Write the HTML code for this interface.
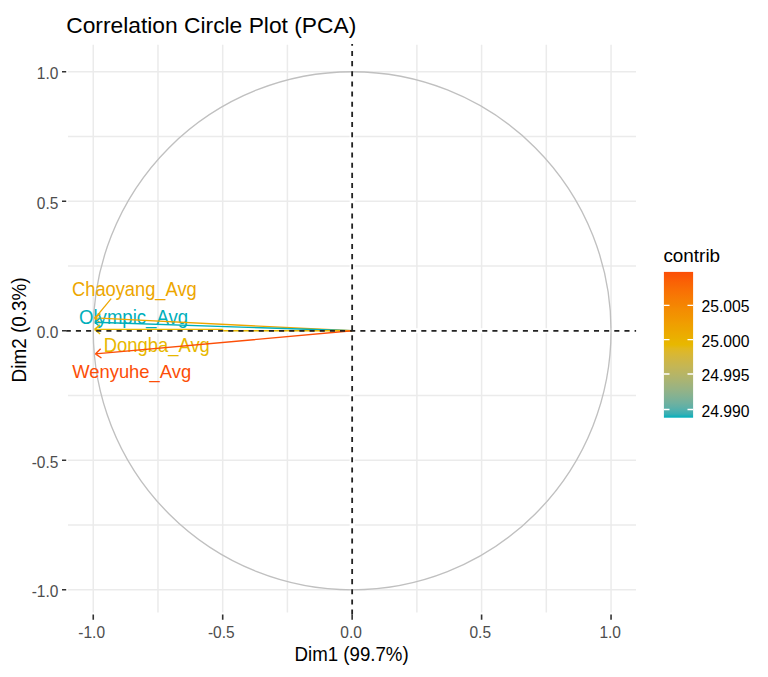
<!DOCTYPE html>
<html><head><meta charset="utf-8"><title>Correlation Circle Plot (PCA)</title><style>
html,body{margin:0;padding:0;background:#fff;}
body{width:768px;height:677px;overflow:hidden;position:relative;font-family:"Liberation Sans",sans-serif;}
svg{position:absolute;left:0;top:0;display:block;}
text{font-family:"Liberation Sans",sans-serif;}
</style></head><body>
<svg width="768" height="677" viewBox="0 0 768 677">
<rect x="0" y="0" width="768" height="677" fill="#fff"/>
<path d="M93.25 44.7V612.5M68.0 589.80H636.0M157.97 44.7V612.5M68.0 525.05H636.0M222.70 44.7V612.5M68.0 460.30H636.0M287.42 44.7V612.5M68.0 395.55H636.0M352.15 44.7V612.5M68.0 330.80H636.0M416.88 44.7V612.5M68.0 266.05H636.0M481.60 44.7V612.5M68.0 201.30H636.0M546.32 44.7V612.5M68.0 136.55H636.0M611.05 44.7V612.5M68.0 71.80H636.0" stroke="#EBEBEB" stroke-width="1.5" fill="none"/>
<path d="M68.0 330.8H636.0M352.15 44.7V612.5" stroke="#fff" stroke-width="5" fill="none"/>
<ellipse cx="352.15" cy="330.8" rx="258.9" ry="259.0" stroke="#C0C0C0" stroke-width="1.35" fill="none"/>
<path d="M62 589.80H66.2M93.25 614.5V619.7M62 460.30H66.2M222.70 614.5V619.7M62 330.80H66.2M352.15 614.5V619.7M62 201.30H66.2M481.60 614.5V619.7M62 71.80H66.2M611.05 614.5V619.7" stroke="#333" stroke-width="1.6" fill="none"/>
<text transform="translate(58.40,597.20) scale(1,1.063)" font-size="15.5" fill="#4D4D4D" text-anchor="end">-1.0</text>
<text transform="translate(58.40,467.70) scale(1,1.063)" font-size="15.5" fill="#4D4D4D" text-anchor="end">-0.5</text>
<text transform="translate(58.40,338.20) scale(1,1.063)" font-size="15.5" fill="#4D4D4D" text-anchor="end">0.0</text>
<text transform="translate(58.40,208.70) scale(1,1.063)" font-size="15.5" fill="#4D4D4D" text-anchor="end">0.5</text>
<text transform="translate(58.40,79.20) scale(1,1.063)" font-size="15.5" fill="#4D4D4D" text-anchor="end">1.0</text>
<text transform="translate(91.65,638.20) scale(1,1.063)" font-size="15.5" fill="#4D4D4D" text-anchor="middle">-1.0</text>
<text transform="translate(221.30,638.20) scale(1,1.063)" font-size="15.5" fill="#4D4D4D" text-anchor="middle">-0.5</text>
<text transform="translate(351.05,638.20) scale(1,1.063)" font-size="15.5" fill="#4D4D4D" text-anchor="middle">0.0</text>
<text transform="translate(480.25,638.20) scale(1,1.063)" font-size="15.5" fill="#4D4D4D" text-anchor="middle">0.5</text>
<text transform="translate(610.20,638.20) scale(1,1.063)" font-size="15.5" fill="#4D4D4D" text-anchor="middle">1.0</text>
<text transform="translate(66.20,32.70)" font-size="22.8" fill="#000">Correlation Circle Plot (PCA)</text>
<text transform="translate(351.60,660.50) scale(1,1.065)" font-size="18.7" fill="#000" text-anchor="middle">Dim1 (99.7%)</text>
<text transform="translate(25.9,329.9) rotate(-90) scale(1,1.07)" font-size="18.9" fill="#000" text-anchor="middle">Dim2 (0.3%)</text>
<text transform="translate(72.00,296.20) scale(1,1.075)" font-size="18.3" fill="#EDA600">Chaoyang_Avg</text>
<text transform="translate(79.00,324.10) scale(1,1.075)" font-size="18.6" fill="#00AFBB">Olympic_Avg</text>
<text transform="translate(103.80,351.70) scale(1,1.05)" font-size="18.4" fill="#E7B800">Dongba_Avg</text>
<text transform="translate(72.20,378.40)" font-size="18.4" fill="#FC4E07">Wenyuhe_Avg</text>
<path d="M111.2 298.7L95.2 318.0" stroke="#EDA600" stroke-width="1.2" fill="none"/>
<path d="M352.15 330.8L94.50 317.90M99.94 322.77L94.50 317.90M100.40 313.60L94.50 317.90" stroke="#EDA600" stroke-width="1.4" fill="none" stroke-linecap="butt"/>
<path d="M352.15 330.8L94.80 322.20M100.32 326.98L94.80 322.20M100.62 317.80L94.80 322.20" stroke="#00AFBB" stroke-width="1.4" fill="none" stroke-linecap="butt"/>
<path d="M352.15 330.8H223.3M223.3 329.40H94.50M100.15 334.02L94.50 329.40M100.20 324.84L94.50 329.40" stroke="#E7B800" stroke-width="1.4" fill="none" stroke-linecap="butt"/>
<path d="M352.15 330.8L95.40 353.90M101.46 357.97L95.40 353.90M100.64 348.82L95.40 353.90" stroke="#FC4E07" stroke-width="1.4" fill="none" stroke-linecap="butt"/>
<path d="M66.2 330.8H636.1" stroke="#222" stroke-width="1.8" fill="none" stroke-dasharray="5.079 5.079" stroke-dashoffset="10.614"/>
<path d="M352.15 44.1V614.6" stroke="#222" stroke-width="1.8" fill="none" stroke-dasharray="5.079 5.079" stroke-dashoffset="13.514"/>
<defs><linearGradient id="cb" x1="0" y1="0" x2="0" y2="1"><stop offset="0.000" stop-color="#FC4E07"/><stop offset="0.025" stop-color="#FB5506"/><stop offset="0.050" stop-color="#FB5C06"/><stop offset="0.075" stop-color="#FA6305"/><stop offset="0.100" stop-color="#F96905"/><stop offset="0.125" stop-color="#F96F04"/><stop offset="0.150" stop-color="#F87404"/><stop offset="0.175" stop-color="#F77A03"/><stop offset="0.200" stop-color="#F67F03"/><stop offset="0.225" stop-color="#F58402"/><stop offset="0.250" stop-color="#F48A02"/><stop offset="0.275" stop-color="#F38F02"/><stop offset="0.300" stop-color="#F29301"/><stop offset="0.325" stop-color="#F19801"/><stop offset="0.350" stop-color="#F09D01"/><stop offset="0.375" stop-color="#EEA200"/><stop offset="0.400" stop-color="#EDA600"/><stop offset="0.425" stop-color="#ECAB00"/><stop offset="0.450" stop-color="#EAAF00"/><stop offset="0.475" stop-color="#E9B400"/><stop offset="0.500" stop-color="#E7B800"/><stop offset="0.525" stop-color="#E2B81D"/><stop offset="0.550" stop-color="#DCB72C"/><stop offset="0.575" stop-color="#D6B738"/><stop offset="0.600" stop-color="#D0B643"/><stop offset="0.625" stop-color="#CAB64C"/><stop offset="0.650" stop-color="#C4B655"/><stop offset="0.675" stop-color="#BEB55D"/><stop offset="0.700" stop-color="#B7B565"/><stop offset="0.725" stop-color="#B0B46D"/><stop offset="0.750" stop-color="#A8B474"/><stop offset="0.775" stop-color="#A0B37C"/><stop offset="0.800" stop-color="#98B383"/><stop offset="0.825" stop-color="#8FB28A"/><stop offset="0.850" stop-color="#85B291"/><stop offset="0.875" stop-color="#7BB198"/><stop offset="0.900" stop-color="#6FB19F"/><stop offset="0.925" stop-color="#61B0A6"/><stop offset="0.950" stop-color="#4FB0AD"/><stop offset="0.975" stop-color="#38AFB4"/><stop offset="1.000" stop-color="#00AFBB"/></linearGradient></defs>
<rect x="663.9" y="271.9" width="29.20" height="145.80" fill="url(#cb)"/>
<path d="M663.9 305.3h5.6M693.1 305.3h-5.6M663.9 339.7h5.6M693.1 339.7h-5.6M663.9 374.0h5.6M693.1 374.0h-5.6M663.9 409.5h5.6M693.1 409.5h-5.6" stroke="#fff" stroke-width="1.3" fill="none"/>
<text transform="translate(663.40,261.90) scale(1,1.02)" font-size="18.9" fill="#000">contrib</text>
<text transform="translate(701.40,312.30) scale(1,1.055)" font-size="15.75" fill="#000">25.005</text>
<text transform="translate(701.40,347.30) scale(1,1.055)" font-size="15.75" fill="#000">25.000</text>
<text transform="translate(701.40,381.30) scale(1,1.055)" font-size="15.75" fill="#000">24.995</text>
<text transform="translate(701.40,416.50) scale(1,1.055)" font-size="15.75" fill="#000">24.990</text>
</svg>
</body></html>
